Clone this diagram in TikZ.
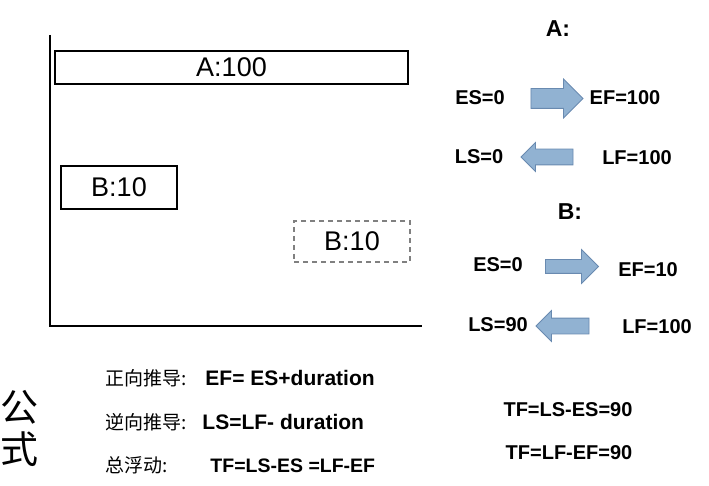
\documentclass[tikz,border=0pt]{standalone}
\usepackage{fontspec}
\setmainfont{Liberation Sans}
\newfontfamily\cjk{Noto Sans CJK SC}
\usetikzlibrary{positioning,shapes.arrows}
\definecolor{arrowfill}{RGB}{145,178,210}
\definecolor{arrowline}{RGB}{105,138,176}

\begin{document}
\begin{tikzpicture}[x=1pt, y=-1pt,
      bar/.style={draw, line width=1.8pt, inner sep=0pt,
                  font=\fontsize{27}{27}\selectfont},          % activity bar
      ghost/.style={bar, draw=gray, line width=1.4pt,
                    dash pattern=on 5pt off 4pt},              % shifted bar
      lbl/.style={inner sep=0pt, font=\bfseries\fontsize{20}{20}\selectfont},
      head/.style={inner sep=0pt, font=\bfseries\fontsize{23}{23}\selectfont},
      rule/.style={inner sep=0pt, anchor=west, font=\fontsize{21}{21}\selectfont},
      blk/.style={single arrow, draw=arrowline, fill=arrowfill, line width=0.8pt,
                  inner xsep=0pt}]                             % block arrow
    \useasboundingbox (0,0) rectangle (709,486);
    % time axes
    \coordinate (top) at (50,35);
    \coordinate (origin) at (50,326);
    \coordinate (xend) at (422,326);
    \draw[line width=1.8pt] (top) -- (origin) -- (xend);
    % bars
    \node[bar, minimum width=353pt, minimum height=33pt] (barA) at (231.5,67.5) {A:100};
    \node[bar, minimum width=116pt, minimum height=43pt] (barB) at (119,187.5) {B:10};
    \node[ghost, minimum width=116pt, minimum height=41pt] (barBlate) at (352,241.5) {B:10};
    % activity A
    \node[head] (hA) at (558,29) {A:};
    \node[lbl] (esA) at (480,98) {ES=0};
    \node[blk, inner ysep=9.5pt, single arrow head extend=9.5pt, minimum height=52pt] (fwdA) at (552,98.5) {};
    \node[lbl] (efA) at (625,98) {EF=100};
    \node[lbl] (lsA) at (479,157) {LS=0};
    \node[blk, shape border rotate=180, inner ysep=7.5pt, single arrow head extend=6.5pt, minimum height=52pt] (bwdA) at (551,157) {};
    \node[lbl] (lfA) at (637,158) {LF=100};
    % activity B
    \node[head] (hB) at (570,212) {B:};
    \node[lbl] (esB) at (498,265) {ES=0};
    \node[blk, inner ysep=6.5pt, single arrow head extend=10pt, minimum height=53pt] (fwdB) at (568.5,266.5) {};
    \node[lbl] (efB) at (648,270) {EF=10};
    \node[lbl] (lsB) at (498,325) {LS=90};
    \node[blk, shape border rotate=180, inner ysep=7.5pt, single arrow head extend=7.5pt, minimum height=53pt] (bwdB) at (566.5,326) {};
    \node[lbl] (lfB) at (657,327) {LF=100};
    % formulas
    \node[inner sep=0pt, align=center, font=\cjk\fontsize{38}{42}\selectfont] (gs) at (20,428) {公\\式};
    \node[rule] (fwd) at (105,378) {{\cjk\fontsize{19}{19}\selectfont 正向推导:}\hspace{19pt}\textbf{EF= ES+duration}};
    \node[rule] (bwd) at (105,422) {{\cjk\fontsize{19}{19}\selectfont 逆向推导:}\hspace{16pt}\textbf{LS=LF- duration}};
    \node[rule] (tot) at (105,465) {{\cjk\fontsize{19}{19}\selectfont 总浮动:}\hspace{43pt}\fontsize{19.5}{19.5}\selectfont\textbf{TF=LS-ES =LF-EF}};
    \node[lbl] (tf1) at (568,410) {TF=LS-ES=90};
    \node[lbl] (tf2) at (569,453) {TF=LF-EF=90};
  \end{tikzpicture}
\end{document}
